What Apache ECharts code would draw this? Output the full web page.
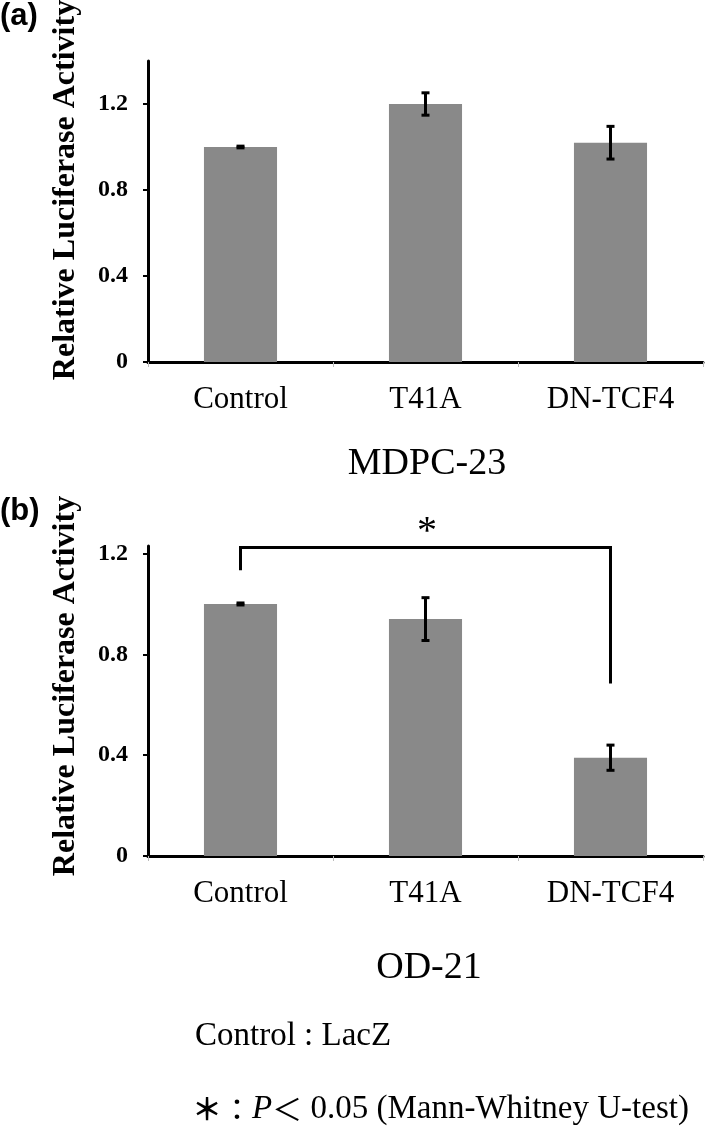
<!DOCTYPE html>
<html>
<head>
<meta charset="utf-8">
<script src="https://cdn.jsdelivr.net/npm/echarts@6/dist/echarts.min.js"></script>
<style>
html,body{margin:0;padding:0;background:#fff;}
#chart{width:713px;height:1148px;}
</style>
</head>
<body>
<div id="chart"></div>
<script>
const categories = ['Control', 'T41A', 'DN-TCF4'];
const mdpcMeans = [1.0, 1.2, 1.02];
const mdpcErr = [0.004, 0.052, 0.076];
const odMeans = [1.0, 0.94, 0.39];
const odErr = [0.004, 0.085, 0.05];
const yTickValues = [0, 0.4, 0.8, 1.2];
const bracketPoints = [[0, 1.14], [0, 1.224], [2, 1.224], [2, 0.69]];
const panelTitles = ['MDPC-23', 'OD-21'];
const yName = 'Relative Luciferase Activity';

const SERIF = 'Liberation Serif';
const SANS = 'Liberation Sans';

function errData(means, errs) {
  return means.map((m, i) => [i, m - errs[i], m + errs[i]]);
}

function renderErr(params, api) {
  const x = api.value(0);
  const lo = api.coord([x, api.value(1)]);
  const hi = api.coord([x, api.value(2)]);
  const h = 4;
  const st = { stroke: '#000', lineWidth: 3 };
  return {
    type: 'group',
    children: [
      { type: 'line', shape: { x1: lo[0], y1: lo[1], x2: hi[0], y2: hi[1] }, style: st },
      { type: 'line', shape: { x1: hi[0] - h, y1: hi[1], x2: hi[0] + h, y2: hi[1] }, style: st },
      { type: 'line', shape: { x1: lo[0] - h, y1: lo[1], x2: lo[0] + h, y2: lo[1] }, style: st }
    ]
  };
}

function xAxisCfg(gi) {
  return {
    type: 'category', gridIndex: gi, data: categories,
    axisLine: { lineStyle: { color: '#000', width: 3 } },
    axisTick: { show: true, length: 5, lineStyle: { color: '#bbb', width: 1 } },
    axisLabel: { color: '#000', fontFamily: SERIF, fontSize: 31, margin: 22 },
    splitLine: { show: false }
  };
}
function yAxisCfg(gi, max) {
  return {
    type: 'value', gridIndex: gi, min: 0, max: max,
    axisLine: { show: true, lineStyle: { color: '#000', width: 3 } },
    axisTick: { show: true, length: 5, customValues: yTickValues, lineStyle: { color: '#000', width: 2 } },
    axisLabel: { color: '#000', fontFamily: SERIF, fontWeight: 'bold', fontSize: 24, margin: 20, customValues: yTickValues },
    splitLine: { show: false }
  };
}

const chart = echarts.init(document.getElementById('chart'), null, { renderer: 'canvas' });
chart.setOption({
  backgroundColor: '#fff',
  animation: false,
  grid: [
    { left: 148, width: 555, top: 61, height: 301 },
    { left: 148, width: 555, top: 546, height: 310 }
  ],
  xAxis: [xAxisCfg(0), xAxisCfg(1)],
  yAxis: [yAxisCfg(0, 1.4), yAxisCfg(1, 1.23)],
  series: [
    { type: 'bar', xAxisIndex: 0, yAxisIndex: 0, data: mdpcMeans, barWidth: '39.5%', itemStyle: { color: '#898989' } },
    { type: 'custom', xAxisIndex: 0, yAxisIndex: 0, data: errData(mdpcMeans, mdpcErr), renderItem: renderErr, encode: { x: 0, y: [1, 2] }, z: 5 },
    { type: 'bar', xAxisIndex: 1, yAxisIndex: 1, data: odMeans, barWidth: '39.5%', itemStyle: { color: '#898989' } },
    { type: 'custom', xAxisIndex: 1, yAxisIndex: 1, data: errData(odMeans, odErr), renderItem: renderErr, encode: { x: 0, y: [1, 2] }, z: 5 },
    { type: 'line', xAxisIndex: 1, yAxisIndex: 1, data: bracketPoints, symbol: 'none', clip: false,
      lineStyle: { color: '#000', width: 3, cap: 'square', join: 'miter' }, z: 6 }
  ],
  graphic: [
    { type: 'text', left: 0, top: 1, style: { text: '(a)', font: 'bold 31px "' + SANS + '"', fill: '#000' } },
    { type: 'text', left: 0, top: 496, style: { text: '(b)', font: 'bold 31px "' + SANS + '"', fill: '#000' } },
    { type: 'text', x: 66, y: 190, rotation: Math.PI / 2,
      style: { text: yName, font: 'bold 32px "' + SERIF + '"', fill: '#000', align: 'center', verticalAlign: 'middle' } },
    { type: 'text', x: 66, y: 686, rotation: Math.PI / 2,
      style: { text: yName, font: 'bold 32px "' + SERIF + '"', fill: '#000', align: 'center', verticalAlign: 'middle' } },
    { type: 'text', x: 427, y: 464, style: { text: panelTitles[0], font: '38px "' + SERIF + '"', fill: '#000', align: 'center', verticalAlign: 'middle' } },
    { type: 'text', x: 429, y: 968, style: { text: panelTitles[1], font: '38px "' + SERIF + '"', fill: '#000', align: 'center', verticalAlign: 'middle' } },
    { type: 'text', x: 427, y: 532, style: { text: '*', font: '40px "' + SERIF + '"', fill: '#000', align: 'center', verticalAlign: 'middle' } },
    { type: 'text', x: 195, y: 1036, style: { text: 'Control : LacZ', font: '33px "' + SERIF + '"', fill: '#000', align: 'left', verticalAlign: 'middle' } },
    { type: 'text', x: 192, y: 1109, style: {
        text: '{a|＊}{b|：}{i|P}{b|＜}{c| 0.05 (Mann-Whitney U-test)}',
        align: 'left', verticalAlign: 'middle',
        rich: {
          a: { fontFamily: 'Noto Sans CJK JP', fontSize: 30, fontWeight: 'bold', color: '#000' },
          i: { fontFamily: SERIF, fontSize: 33, fontStyle: 'italic', color: '#000' },
          b: { fontFamily: 'Noto Sans CJK JP', fontSize: 30, color: '#000' },
          c: { fontFamily: SERIF, fontSize: 33, color: '#000' }
        }
      } }
  ]
});
</script>
</body>
</html>
